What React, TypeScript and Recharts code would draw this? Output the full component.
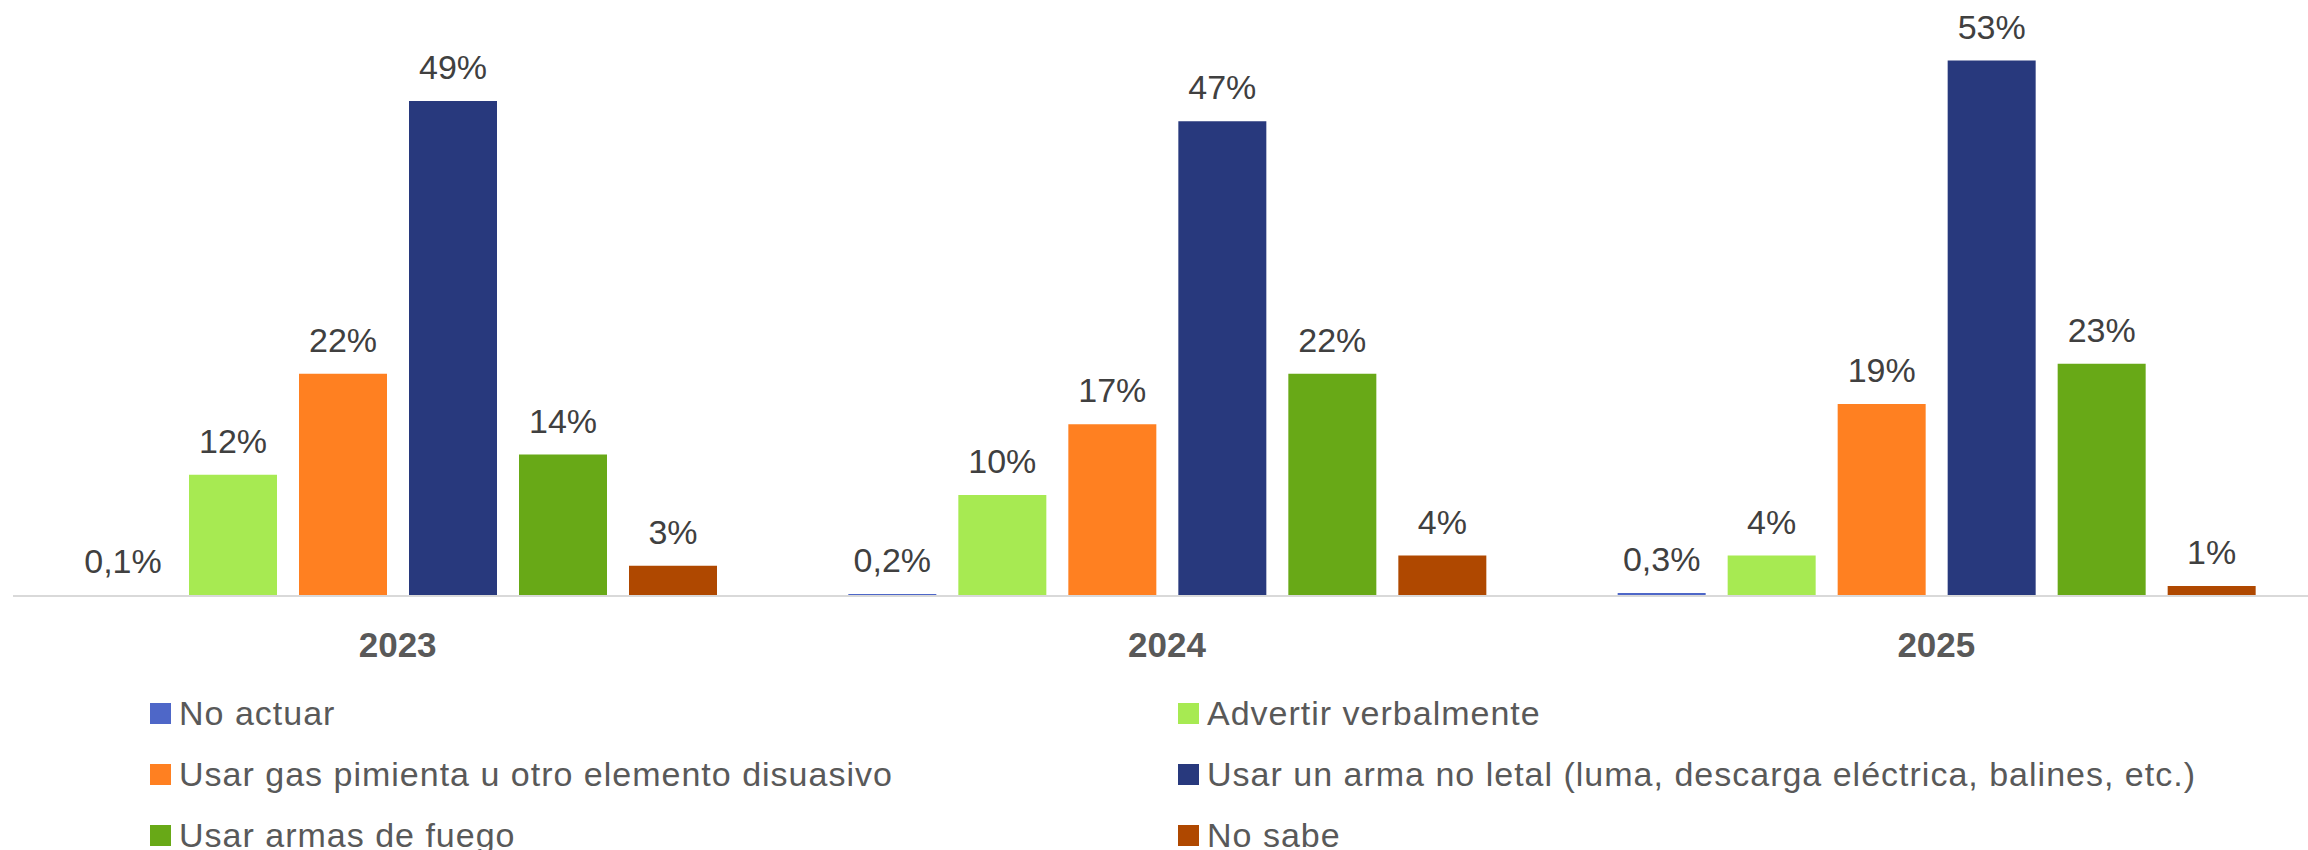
import React from "react";
import { BarChart, Bar, XAxis, YAxis, Legend, LabelList } from "recharts";

const years = ["2023", "2024", "2025"];

const noActuar = [0.1, 0.2, 0.3];
const advertir = [12, 10, 4];
const gasPimienta = [22, 17, 19];
const armaNoLetal = [49, 47, 53];
const armasFuego = [14, 22, 23];
const noSabe = [3, 4, 1];

const SERIES = [
  { key: "noActuar", name: "No actuar", values: noActuar, color: "#4E67C8" },
  { key: "advertir", name: "Advertir verbalmente", values: advertir, color: "#A7EA52" },
  { key: "gasPimienta", name: "Usar gas pimienta u otro elemento disuasivo", values: gasPimienta, color: "#FF8021" },
  { key: "armaNoLetal", name: "Usar un arma no letal (luma, descarga eléctrica, balines, etc.)", values: armaNoLetal, color: "#28397D" },
  { key: "armasFuego", name: "Usar armas de fuego", values: armasFuego, color: "#68A917" },
  { key: "noSabe", name: "No sabe", values: noSabe, color: "#AF4800" },
];

const data = years.map((year, i) => {
  const row: Record<string, string | number> = { year };
  SERIES.forEach((s) => {
    row[s.key] = s.values[i];
  });
  return row;
});

const FONT = "'Liberation Sans', Arial, sans-serif";

function formatPct(v: number) {
  if (v < 1) return `${String(v).replace(".", ",")}%`;
  return `${Math.round(v)}%`;
}

function YearTick({ x, y, payload }: any) {
  return (
    <text x={x} y={y + 61} textAnchor="middle" fill="#595959" fontSize={35} fontWeight="bold" fontFamily={FONT}>
      {payload.value}
    </text>
  );
}

function LegendGrid() {
  return (
    <div
      style={{
        display: "grid",
        gridTemplateColumns: "1028px auto",
        gridAutoRows: "61px",
        paddingTop: 13,
        paddingLeft: 150,
        boxSizing: "border-box",
        height: 180,
        fontFamily: FONT,
      }}
    >
      {SERIES.map((s) => (
        <div key={s.key} style={{ display: "flex", alignItems: "center", gap: 8 }}>
          <span style={{ width: 21, height: 21, background: s.color, flex: "none" }} />
          <span style={{ fontSize: 34, color: "#595959", letterSpacing: 1, whiteSpace: "nowrap" }}>{s.name}</span>
        </div>
      ))}
    </div>
  );
}

export default function App() {
  return (
    <div style={{ position: "absolute", left: 0, top: 0, width: 2308, height: 850, overflow: "hidden", background: "#fff" }}>
      <BarChart
        width={2321}
        height={850}
        data={data}
        margin={{ top: 0, right: 0, bottom: 0, left: 13 }}
        barSize={88}
        barGap={22}
      >
        <XAxis
          dataKey="year"
          tickLine={false}
          tickSize={0}
          tickMargin={0}
          height={74}
          axisLine={{ stroke: "#D9D9D9", strokeWidth: 2 }}
          tick={<YearTick />}
        />
        <YAxis hide domain={[0, 59]} />
        <Legend
          verticalAlign="bottom"
          content={() => <LegendGrid />}
          wrapperStyle={{ left: 0, top: 670, bottom: "auto", width: 2321, height: 180 }}
        />
        {SERIES.map((s) => (
          <Bar key={s.key} dataKey={s.key} name={s.name} fill={s.color} isAnimationActive={false}>
            <LabelList
              dataKey={s.key}
              position="top"
              offset={22}
              formatter={(v: any) => formatPct(Number(v))}
              fill="#404040"
              fontSize={34}
              fontFamily={FONT}
            />
          </Bar>
        ))}
      </BarChart>
    </div>
  );
}
